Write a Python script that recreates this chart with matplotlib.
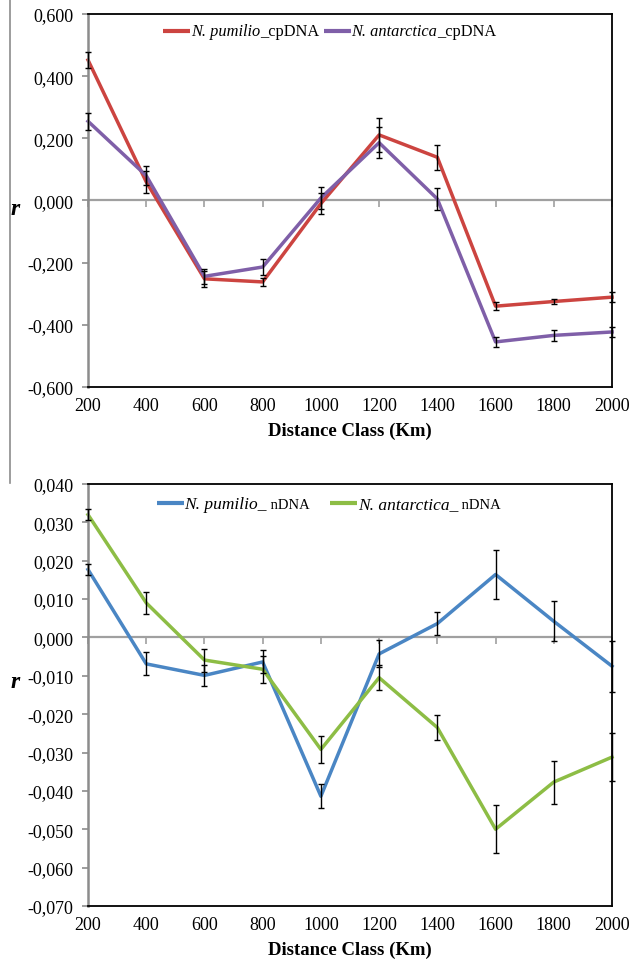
import matplotlib
matplotlib.use('Agg')
import matplotlib.pyplot as plt
from matplotlib.lines import Line2D

plt.rcParams['font.family'] = ['Liberation Serif', 'DejaVu Serif']

# data -----------------------------------------------------------------------
distance = [200, 400, 600, 800, 1000, 1200, 1400, 1600, 1800, 2000]

pum_cp = [0.452, 0.060, -0.252, -0.262, -0.010, 0.211, 0.139, -0.340, -0.325, -0.311]
pum_cp_err = [0.025, 0.035, 0.025, 0.012, 0.035, 0.055, 0.040, 0.012, 0.008, 0.015]
ant_cp = [0.255, 0.080, -0.244, -0.214, 0.008, 0.186, 0.005, -0.455, -0.434, -0.423]
ant_cp_err = [0.027, 0.030, 0.025, 0.025, 0.035, 0.050, 0.035, 0.015, 0.018, 0.015]

pum_n = [0.0177, -0.0069, -0.0099, -0.0064, -0.0414, -0.0043, 0.0036, 0.0164, 0.0042, -0.0075]
pum_n_err = [0.0015, 0.0030, 0.0027, 0.0030, 0.0031, 0.0035, 0.0030, 0.0064, 0.0052, 0.0066]
ant_n = [0.0320, 0.0090, -0.0059, -0.0083, -0.0292, -0.0105, -0.0235, -0.0500, -0.0377, -0.0312]
ant_n_err = [0.0015, 0.0028, 0.0030, 0.0035, 0.0035, 0.0033, 0.0033, 0.0063, 0.0056, 0.0063]

top_ticks = [-0.6, -0.4, -0.2, 0.0, 0.2, 0.4, 0.6]
bot_ticks = [-0.07, -0.06, -0.05, -0.04, -0.03, -0.02, -0.01, 0.0, 0.01, 0.02, 0.03, 0.04]

RED, PURPLE, BLUE, GREEN = '#CC4440', '#7F5FA8', '#4A86C4', '#8DBD45'
GRAY = '#8c8c8c'

fig = plt.figure(figsize=(6.34, 9.62), dpi=100)
ax1 = fig.add_axes([0.1388, 0.5967, 0.8265, 0.3877])
ax2 = fig.add_axes([0.1388, 0.0572, 0.8265, 0.4387])


def fmt(v):
    s = '%.3f' % v
    if s == '-0.000':
        s = '0.000'
    return s.replace('.', ',')


def style_axes(ax, ticks, lo, hi):
    ax.set_xlim(200, 2000)
    ax.set_ylim(lo, hi)
    ax.set_xticks(distance)
    ax.set_xticklabels([str(d) for d in distance], fontsize=13)
    ax.set_yticks(ticks)
    ax.set_yticklabels([fmt(t) for t in ticks], fontsize=13)
    ax.tick_params(axis='x', length=0, pad=7)
    ax.tick_params(axis='y', length=4, width=1.2, color=GRAY, direction='out', pad=6.5)
    for side in ['top', 'right', 'bottom']:
        ax.spines[side].set_color('black')
        ax.spines[side].set_linewidth(1.3)
    ax.spines['left'].set_color(GRAY)
    ax.spines['left'].set_linewidth(1.8)
    ax.axhline(0, color='#a0a0a0', lw=1.6, zorder=1)
    ax.plot(distance, [0] * len(distance), ls='none', marker=3, ms=5,
            mew=1.2, color='#a0a0a0', zorder=1, clip_on=False)
    ax.set_xlabel('Distance Class (Km)', fontsize=13.5, fontweight='bold', labelpad=6)


def series(ax, y, err, color):
    ax.plot(distance, y, color=color, lw=2.5, zorder=2, clip_on=False)
    ax.errorbar(distance, y, yerr=err, fmt='none', ecolor='black', elinewidth=1,
                capsize=2.5, capthick=1, zorder=3, clip_on=False)


def legend_entry(ax, x, y, color, species, suffix, size, suffix_size):
    ax.plot([x, x + 0.052], [y, y], transform=ax.transAxes, color=color, lw=3,
            clip_on=False, solid_capstyle='butt')
    t1 = ax.text(x + 0.053, y - 0.012, species, style='italic', fontsize=size,
                 transform=ax.transAxes, va='baseline', ha='left')
    ax.annotate(suffix, xy=(1, y - 0.012), xycoords=(t1, 'axes fraction'),
                va='baseline', ha='left', fontsize=suffix_size)


series(ax1, pum_cp, pum_cp_err, RED)
series(ax1, ant_cp, ant_cp_err, PURPLE)
style_axes(ax1, top_ticks, -0.6, 0.6)
legend_entry(ax1, 0.143, 0.955, RED, 'N. pumilio', '_cpDNA', 11.8, 11.8)
legend_entry(ax1, 0.450, 0.955, PURPLE, 'N. antarctica', '_cpDNA', 11.8, 11.8)

series(ax2, pum_n, pum_n_err, BLUE)
series(ax2, ant_n, ant_n_err, GREEN)
style_axes(ax2, bot_ticks, -0.07, 0.04)
legend_entry(ax2, 0.131, 0.955, BLUE, 'N. pumilio_', ' nDNA', 12.5, 10.5)
legend_entry(ax2, 0.462, 0.955, GREEN, 'N. antarctica_', ' nDNA', 12.5, 10.5)

# y labels
fig.text(15 / 634, 1 - 210 / 962, 'r', fontsize=17, fontweight='bold', style='italic',
         ha='center', va='center')
fig.text(15 / 634, 1 - 683 / 962, 'r', fontsize=17, fontweight='bold', style='italic',
         ha='center', va='center')

# left border line of the upper figure
fig.add_artist(Line2D([10 / 634, 10 / 634], [1.0, 1 - 484 / 962], color=GRAY, lw=1.2))

fig.savefig('out.png', dpi=100)
